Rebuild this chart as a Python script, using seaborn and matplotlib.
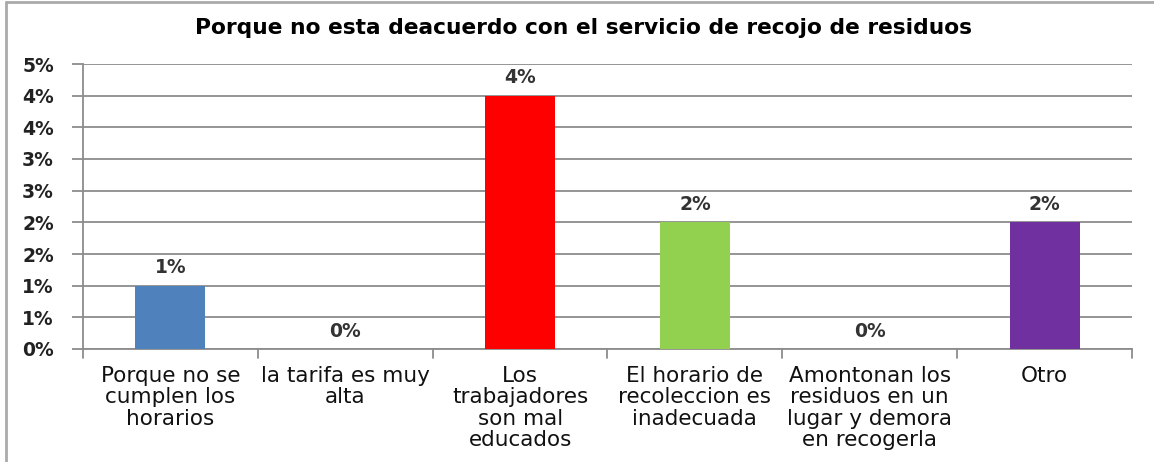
import math
import matplotlib
matplotlib.use("Agg")
import matplotlib.pyplot as plt
from matplotlib.ticker import FuncFormatter, FixedLocator
from matplotlib.lines import Line2D
import seaborn as sns
import pandas as pd

title = "Porque no esta deacuerdo con el servicio de recojo de residuos"
categories = [
    "Porque no se\ncumplen los\nhorarios",
    "la tarifa es muy\nalta",
    "Los\ntrabajadores\nson mal\neducados",
    "El horario de\nrecoleccion es\ninadecuada",
    "Amontonan los\nresiduos en un\nlugar y demora\nen recogerla",
    "Otro",
]
values = [1.0, 0.0, 4.0, 2.0, 0.0, 2.0]   # percent
value_labels = ["1%", "0%", "4%", "2%", "0%", "2%"]
colors = ["#4F81BD", "#4F81BD", "#FF0000", "#92D050", "#4F81BD", "#7030A0"]

sns.set_theme(style="white")
plt.rcParams["font.family"] = ["DejaVu Sans"]

df = pd.DataFrame({"cat": categories, "val": values})

fig = plt.figure(figsize=(11.54, 4.62), dpi=100)
ax = fig.add_axes([83 / 1154, 1 - 349 / 462, (1132 - 83) / 1154, (349 - 64) / 462])

sns.barplot(data=df, x="cat", y="val", hue="cat", palette=colors,
            legend=False, width=0.4, ax=ax, saturation=1, zorder=3,
            linewidth=0, edgecolor="none")

ax.set_xlim(-0.5, len(categories) - 0.5)
ax.set_ylim(0, 4.5)
ax.yaxis.set_major_locator(FixedLocator([i * 0.5 for i in range(10)]))
ax.yaxis.set_major_formatter(FuncFormatter(lambda v, p: f"{int(math.floor(v + 0.5 + 1e-9))}%"))
ax.grid(axis="y", color="#8C8C8C", linewidth=1.3, zorder=0)
ax.set_axisbelow(True)
ax.set_xlabel("")
ax.set_ylabel("")

for s in ["top", "right"]:
    ax.spines[s].set_visible(False)
for s in ["left", "bottom"]:
    ax.spines[s].set_color("#8C8C8C")
    ax.spines[s].set_linewidth(1.3)

ax.tick_params(axis="y", left=True, length=8, width=1.3, color="#8C8C8C",
               labelsize=13.5, pad=13, labelcolor="#222222")
for t in ax.get_yticklabels():
    t.set_fontweight("bold")
ax.tick_params(axis="x", bottom=False, labelsize=15.5, pad=6, labelcolor="#111111")
for t in ax.get_xticklabels():
    t.set_linespacing(1.1)

# category boundary tick marks
for b in [i - 0.5 for i in range(len(categories) + 1)]:
    ax.add_line(Line2D([b, b], [0, -0.03], transform=ax.get_xaxis_transform(),
                       color="#8C8C8C", linewidth=1.3, clip_on=False))

for i, (v, lab) in enumerate(zip(values, value_labels)):
    ax.text(i, v + 0.13, lab, ha="center", va="bottom", fontsize=13.5,
            fontweight="bold", color="#333333")

fig.text(584 / 1154, 1 - 28 / 462, title, ha="center", va="center",
         fontsize=15.7, fontweight="bold", color="#000000")

# chart border
fig.add_artist(Line2D([6 / 1154, 6 / 1154], [0, 1 - 1.5 / 462], transform=fig.transFigure,
                      color="#AAAAAA", linewidth=2))
fig.add_artist(Line2D([6 / 1154, 1], [1 - 1.5 / 462, 1 - 1.5 / 462], transform=fig.transFigure,
                      color="#AAAAAA", linewidth=2))

fig.savefig("out.png", dpi=100)
